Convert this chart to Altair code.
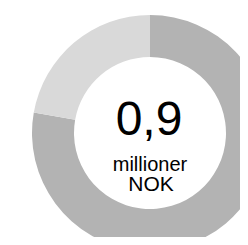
import altair as alt
import pandas as pd

categories = ["A", "B"]
values = [0.7, 0.2]
colors = ["#b3b3b3", "#d9d9d9"]
total_label = "0,9"
unit_lines = ["millioner", "NOK"]

df = pd.DataFrame({"cat": categories, "val": values, "ord": list(range(len(values)))})

cx, cy = 142, 125

arc = alt.Chart(df).mark_arc(outerRadius=118, innerRadius=76, stroke=None).encode(
    theta=alt.Theta("val:Q", stack=True),
    order=alt.Order("ord:Q"),
    color=alt.Color("cat:N", scale=alt.Scale(domain=categories, range=colors), legend=None),
    x=alt.value(cx),
    y=alt.value(cy),
)

big = alt.Chart(pd.DataFrame({"t": [total_label]})).mark_text(
    font="Liberation Sans", fontSize=48, baseline="alphabetic", align="center", color="#000000"
).encode(text="t:N", x=alt.value(cx - 1), y=alt.value(127))

small_a = alt.Chart(pd.DataFrame({"t": [unit_lines[0]]})).mark_text(
    font="Liberation Sans", fontSize=20, baseline="alphabetic", align="center", color="#000000"
).encode(text="t:N", x=alt.value(cx), y=alt.value(162.5))
small_b = alt.Chart(pd.DataFrame({"t": [unit_lines[1]]})).mark_text(
    font="Liberation Sans", fontSize=21, baseline="alphabetic", align="center", color="#000000"
).encode(text="t:N", x=alt.value(cx + 1), y=alt.value(182.5))

chart = alt.layer(arc, big, small_a, small_b).properties(
    width=232, height=229, padding=0, autosize="none"
).configure_view(stroke=None)

chart.save("out.html", embed_options={"renderer": "svg", "actions": False})
